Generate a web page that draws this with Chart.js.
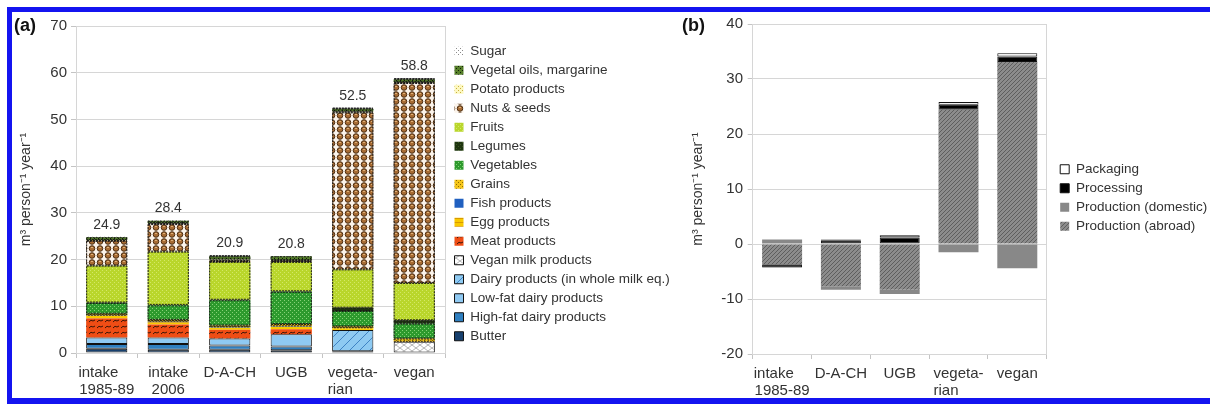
<!DOCTYPE html>
<html lang="en">
<head>
<meta charset="UTF-8">
<title>Water footprint of diets</title>
<style>
  body { margin: 0; background: #fff; width: 1210px; height: 405px; overflow: hidden; position: relative; font-family: 'Liberation Sans', Arial, sans-serif; }
  canvas { position: absolute; top: 0; }
  #chartA { left: 0; }
  #chartB { left: 680px; }
  .frame { position: absolute; left: 7px; top: 7px; width: 1220px; height: 386px; border-top: 5px solid #1414f0; border-left: 5px solid #1414f0; border-bottom: 6px solid #1414f0; pointer-events: none; }
  .tag { position: absolute; top: 15px; font-weight: bold; font-size: 18px; color: #111; }
</style>
</head>
<body>
<canvas id="chartA" width="680" height="405"></canvas>
<canvas id="chartB" width="530" height="405"></canvas>
<div class="tag" style="left:14px">(a)</div>
<div class="tag" style="left:682px">(b)</div>
<div class="frame"></div>

<script src="https://cdn.jsdelivr.net/npm/chart.js"></script>
<script>
// ---- panel (a): diet categories, stacked bottom -> top
const dietsA = [['intake\u2007\u2007', '1985-89'], ['intake', '2006'], 'D-A-CH', 'UGB', ['vegeta-', 'rian\u2007\u2007\u2007'], 'vegan'];
const totalsA = [24.9, 28.4, 20.9, 20.8, 52.5, 58.8];

const butter       = [0.9, 0.7, 0.7, 0.6, 0.4, 0];
const highFatDairy = [1.0, 1.2, 0.9, 0.8, 0, 0];
const lowFatDairy  = [1.4, 1.4, 1.5, 2.6, 0, 0];
const dairyMilkEq  = [0, 0, 0, 0, 4.5, 0];
const veganMilk    = [0, 0, 0, 0, 0, 2.4];
const meat         = [4.1, 2.8, 1.9, 1.1, 0, 0];
const egg          = [0.5, 0.5, 0.4, 0.5, 0.4, 0];
const fish         = [0.1, 0.1, 0.1, 0.1, 0, 0];
const grains       = [0.4, 0.4, 0.4, 0.5, 0.4, 0.7];
const vegetables   = [2.3, 3.1, 5.4, 6.9, 3.3, 3.2];
const legumes      = [0.1, 0.1, 0.1, 0.1, 0.7, 0.7];
const fruits       = [7.9, 11.4, 8.1, 6.3, 8.2, 8.0];
const nuts         = [5.3, 5.9, 0.2, 0.2, 33.6, 42.8];
const potato       = [0.2, 0.2, 0.3, 0.2, 0.2, 0.2];
const vegOils      = [0.6, 0.5, 0.7, 0.8, 0.6, 0.6];
const sugar        = [0.1, 0.1, 0.2, 0.1, 0.2, 0.2];
const ticksA = [0, 10, 20, 30, 40, 50, 60, 70];

// ---- panel (b): change vs. intake 2006
const dietsB = [['intake\u2007\u2007', '1985-89'], 'D-A-CH', 'UGB', ['vegeta-', 'rian\u2007\u2007\u2007'], 'vegan'];
const prodAbroad   = [-3.7, -7.7, -8.3, 24.4, 33.1];
const prodDomestic = [0.8, -0.6, -0.8, -1.5, -4.4];
const processing   = [-0.55, 0.7, 1.2, 0.9, 1.0];
const packaging    = [-0.05, 0.1, 0.4, 0.5, 0.6];
const ticksB = [-20, -10, 0, 10, 20, 30, 40];

const yTitle = 'm\u00b3 person\u207b\u00b9 year\u207b\u00b9';

Chart.defaults.font.family = "'Liberation Sans', Arial, sans-serif";
Chart.defaults.color = '#333';

// small fill patterns, LibreOffice style
function tile(w, h, draw) {
  const c = document.createElement('canvas');
  c.width = w; c.height = h;
  const g = c.getContext('2d');
  draw(g, w, h);
  return g.createPattern(c, 'repeat');
}
function dots(base, dot) {
  return tile(4, 4, (g) => {
    g.fillStyle = base; g.fillRect(0, 0, 4, 4);
    g.fillStyle = dot; g.fillRect(0, 0, 1, 1); g.fillRect(2, 2, 1, 1);
  });
}
function hatch(base, line, step) {
  return tile(step, step, (g, w, h) => {
    g.fillStyle = base; g.fillRect(0, 0, w, h);
    g.strokeStyle = line; g.lineWidth = 1;
    g.beginPath();
    for (let i = -1; i <= 1; i++) { g.moveTo(i * w, h); g.lineTo(i * w + w, 0); }
    g.stroke();
  });
}
const nutsFill = tile(8, 7, (g) => {
  g.fillStyle = '#fbf3ea'; g.fillRect(0, 0, 8, 7);
  g.beginPath(); g.arc(4, 3.5, 2.8, 0, Math.PI * 2);
  g.fillStyle = '#a86c34'; g.fill();
  g.strokeStyle = '#4a2c10'; g.lineWidth = 1; g.stroke();
  g.fillStyle = '#deb078'; g.fillRect(3, 2, 2, 1);
});
const meatFill = tile(8, 6, (g) => {
  g.fillStyle = '#ef4d15'; g.fillRect(0, 0, 8, 6);
  g.strokeStyle = '#3b1507'; g.lineWidth = 1;
  g.beginPath(); g.moveTo(1, 4); g.quadraticCurveTo(3, 1, 5, 3); g.lineTo(7, 2); g.stroke();
});
const veganMilkFill = tile(8, 6, (g) => {
  g.fillStyle = '#ffffff'; g.fillRect(0, 0, 8, 6);
  g.strokeStyle = '#b5b5b5'; g.lineWidth = 1;
  g.beginPath(); g.moveTo(0, 0); g.lineTo(8, 6); g.moveTo(8, 0); g.lineTo(0, 6); g.stroke();
});
const eggFill = tile(4, 4, (g) => {
  g.fillStyle = '#f9c900'; g.fillRect(0, 0, 4, 4);
  g.fillStyle = '#d89a00'; g.fillRect(0, 2, 4, 1);
});

const solid = (label, data, color) => ({ label, data, backgroundColor: color, borderColor: '#111', borderWidth: 1, borderSkipped: false });
const plain = (label, data, color) => ({ label, data, backgroundColor: color, borderWidth: 0 });
const dotted = (label, data, color) => ({ label, data, backgroundColor: color, borderWidth: 0, dotted: true });

const datasetsA = [
  solid('Butter', butter, '#17406e'),
  solid('High-fat dairy products', highFatDairy, '#2f7fc0'),
  solid('Low-fat dairy products', lowFatDairy, '#8fc9f2'),
  solid('Dairy products (in whole milk eq.)', dairyMilkEq, hatch('#8ecaf2', '#3f83c4', 10)),
  solid('Vegan milk products', veganMilk, veganMilkFill),
  plain('Meat products', meat, meatFill),
  plain('Egg products', egg, eggFill),
  plain('Fish products', fish, '#2060c0'),
  dotted('Grains', grains, dots('#f5c518', '#8a6a00')),
  dotted('Vegetables', vegetables, dots('#2d9a2d', '#86d276')),
  dotted('Legumes', legumes, dots('#1e3410', '#3c5a20')),
  dotted('Fruits', fruits, dots('#b9d62b', '#d3e866')),
  dotted('Nuts & seeds', nuts, nutsFill),
  dotted('Potato products', potato, dots('#fdf8c0', '#c8b040')),
  dotted('Vegetal oils, margarine', vegOils, dots('#56802a', '#101a06')),
  dotted('Sugar', sugar, dots('#ffffff', '#8a8a8a'))
];

const datasetsB = [
  plain('Production (abroad)', prodAbroad, hatch('#8c8c8c', '#5e5e5e', 4)),
  plain('Production (domestic)', prodDomestic, '#888888'),
  solid('Processing', processing, '#000000'),
  solid('Packaging', packaging, '#ffffff')
];

// legend: fixed width, then nudged into place
const legendFix = {
  id: 'legendFix',
  afterInit(chart, args, opts) {
    const legend = chart.legend;
    const fit = legend.fit;
    legend.fit = function () { fit.call(this); this.width = opts.width; };
  },
  afterLayout(chart, args, opts) {
    chart.legend.left += opts.dx;
    chart.legend.top += opts.dy;
  }
};

// dotted outline round plant-based segments
const dottedEdges = {
  id: 'dottedEdges',
  afterDatasetsDraw(chart) {
    const ctx = chart.ctx;
    ctx.save();
    ctx.strokeStyle = '#1a1a1a';
    ctx.lineWidth = 1;
    ctx.setLineDash([2, 1]);
    chart.data.datasets.forEach((ds, i) => {
      if (!ds.dotted) return;
      chart.getDatasetMeta(i).data.forEach(bar => {
        const h = Math.abs(bar.base - bar.y);
        if (h < 0.8) return;
        ctx.strokeRect(bar.x - bar.width / 2 + 0.5, Math.min(bar.y, bar.base) + 0.5, bar.width - 1, h - 1);
      });
    });
    ctx.restore();
  }
};

// totals above the bars of panel (a)
const totalLabels = {
  id: 'totalLabels',
  afterDatasetsDraw(chart) {
    const ctx = chart.ctx;
    const x = chart.scales.x, y = chart.scales.y;
    ctx.save();
    ctx.font = "14px 'Liberation Sans', Arial, sans-serif";
    ctx.fillStyle = '#333';
    ctx.textAlign = 'center';
    ctx.textBaseline = 'middle';
    totalsA.forEach((t, i) => {
      ctx.fillText(t.toFixed(1), x.getPixelForValue(i), y.getPixelForValue(t) - 12);
    });
    ctx.restore();
  }
};

function axes(ticks, yWidth, xHeight, xPad, yPad) {
  const n = ticks.length;
  return {
    x: {
      stacked: true,
      offset: true,
      grid: { offset: true, drawOnChartArea: true, color: c => c.tick ? 'rgba(0,0,0,0)' : '#d6d6d6', tickColor: '#c4c4c4', tickLength: 5 },
      border: { color: '#d6d6d6' },
      ticks: { font: { size: 15, lineHeight: 1.15 }, color: '#333', padding: xPad, maxRotation: 0, autoSkip: false },
      afterFit: s => { s.height = xHeight; }
    },
    y: {
      stacked: true,
      min: ticks[0],
      max: ticks[n - 1],
      afterBuildTicks: s => { s.ticks = ticks.map(v => ({ value: v })); },
      grid: { color: '#d6d6d6', tickColor: '#c4c4c4', tickLength: 5 },
      border: { color: '#d6d6d6' },
      ticks: { font: { size: 15 }, color: '#333', padding: yPad },
      title: { display: true, text: yTitle, font: { size: 14 }, color: '#333', padding: { top: 4, bottom: 4 } },
      afterFit: s => { s.width = yWidth; }
    }
  };
}

new Chart(document.getElementById('chartA'), {
  type: 'bar',
  data: { labels: dietsA, datasets: datasetsA },
  options: {
    responsive: false,
    animation: false,
    devicePixelRatio: 1,
    layout: { padding: { left: 14, top: 26, right: 0, bottom: 0 } },
    datasets: { bar: { categoryPercentage: 1, barPercentage: 0.67 } },
    scales: axes(ticksA, 62, 52, 6.4, 4),
    plugins: {
      legend: {
        position: 'right',
        align: 'start',
        reverse: true,
        labels: { boxWidth: 9, boxHeight: 9, padding: 5.5, font: { size: 13.5 }, color: '#333' }
      },
      legendFix: { width: 235, dx: 4, dy: 13 },
      tooltip: { enabled: false }
    }
  },
  plugins: [legendFix, dottedEdges, totalLabels]
});

new Chart(document.getElementById('chartB'), {
  type: 'bar',
  data: { labels: dietsB, datasets: datasetsB },
  options: {
    responsive: false,
    animation: false,
    devicePixelRatio: 1,
    layout: { padding: { left: 6, top: 24, right: 0, bottom: 0 } },
    datasets: { bar: { categoryPercentage: 1, barPercentage: 0.68 } },
    scales: axes(ticksB, 66.7, 51, 5.9, 4.7),
    plugins: {
      legend: {
        position: 'right',
        align: 'start',
        reverse: true,
        labels: { boxWidth: 9, boxHeight: 9, padding: 5.5, font: { size: 13.5 }, color: '#333' }
      },
      legendFix: { width: 163.3, dx: 8, dy: 133 },
      tooltip: { enabled: false }
    }
  },
  plugins: [legendFix]
});
</script>
</body>
</html>
